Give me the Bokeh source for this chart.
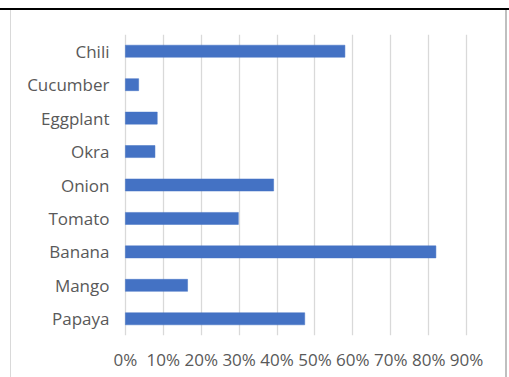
from bokeh.plotting import figure
from bokeh.models import Range1d, FactorRange, FixedTicker, NumeralTickFormatter, ColumnDataSource
from bokeh.embed import file_html
from bokeh.resources import INLINE

categories = ["Chili", "Cucumber", "Eggplant", "Okra", "Onion", "Tomato", "Banana", "Mango", "Papaya"]
values = [0.579, 0.035, 0.084, 0.078, 0.391, 0.298, 0.819, 0.164, 0.473]
x_ticks = [0.0, 0.1, 0.2, 0.3, 0.4, 0.5, 0.6, 0.7, 0.8, 0.9]

FONT = "Open Sans"
TEXT = "#595959"

src = ColumnDataSource(dict(cat=categories, val=values))

p = figure(width=509, height=377, output_backend="svg", toolbar_location=None,
           x_range=Range1d(-0.005, 0.905),
           y_range=FactorRange(factors=list(reversed(categories))),
           min_border_left=123, min_border_right=41, min_border_top=34, min_border_bottom=42)
p.hbar(y="cat", right="val", left=0, height=0.36, source=src,
       fill_color="#4472C4", line_color="#4472C4", line_width=0.5)

p.outline_line_color = None
p.background_fill_color = None
p.border_fill_color = None
p.ygrid.grid_line_color = None
p.xgrid.grid_line_color = "#d9d9d9"
p.xgrid.grid_line_width = 1.3
p.xaxis.ticker = FixedTicker(ticks=x_ticks)
p.xaxis.formatter = NumeralTickFormatter(format="0%")

for ax in (p.xaxis, p.yaxis):
    ax.axis_line_color = None
    ax.major_tick_line_color = None
    ax.minor_tick_line_color = None
    ax.major_tick_out = 0
    ax.major_tick_in = 0
    ax.major_label_text_font = FONT
    ax.major_label_text_font_size = "17px"
    ax.major_label_text_color = TEXT
p.yaxis.major_label_standoff = 14
p.xaxis.major_label_standoff = 12

# frame lines of the screenshot, drawn as CSS background behind the transparent canvas
p.styles = {
    "background-color": "white",
    "background-image": ("linear-gradient(#000000, #000000), linear-gradient(#d9d9d9, #d9d9d9), "
                         "linear-gradient(#bfbfbf, #bfbfbf)"),
    "background-size": "509px 2px, 1px 367px, 2px 367px",
    "background-position": "0px 8px, 10px 10px, 505px 10px",
    "background-repeat": "no-repeat",
}

open("out.html", "w").write(file_html(p, INLINE))
